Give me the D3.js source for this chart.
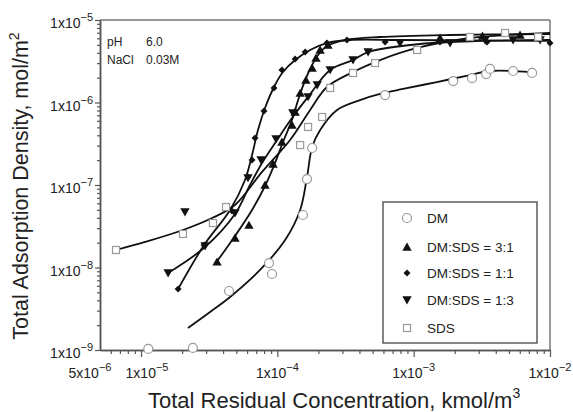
<!DOCTYPE html>
<html><head><meta charset="utf-8">
<script src="https://cdn.jsdelivr.net/npm/d3@7"></script>
<style>
body{margin:0;background:#fff}
svg{display:block;font-family:Arial,"Liberation Sans",Helvetica,sans-serif}
</style>
</head><body>
<svg id="chart" width="573" height="412"></svg>
<script>
// ---------- data ----------
const seriesNames = ["DM", "DM:SDS = 3:1", "DM:SDS = 1:1", "DM:SDS = 1:3", "SDS"];

const dmX = [1.13e-5, 2.40e-5, 4.42e-5, 8.69e-5, 9.14e-5, 1.54e-4, 1.65e-4, 1.80e-4, 6.17e-4, 1.95e-3, 2.68e-3, 3.40e-3, 3.63e-3, 5.36e-3, 7.39e-3];
const dmY = [1.03e-9, 1.06e-9, 5.19e-9, 1.13e-8, 8.34e-9, 4.33e-8, 1.18e-7, 2.81e-7, 1.23e-6, 1.82e-6, 1.98e-6, 2.21e-6, 2.55e-6, 2.41e-6, 2.28e-6];
const dmFitX = [2.21e-5, 3.21e-5, 4.50e-5, 7.46e-5, 1.14e-4, 1.47e-4, 1.65e-4, 1.80e-4, 2.06e-4, 2.74e-4, 4.04e-4, 5.67e-4, 8.36e-4, 1.48e-3, 2.59e-3, 3.63e-3, 7.14e-3];
const dmFitY = [1.85e-9, 2.89e-9, 4.39e-9, 9.33e-9, 2.15e-8, 4.98e-8, 1.25e-7, 2.89e-7, 4.64e-7, 8.11e-7, 1.07e-6, 1.27e-6, 1.46e-6, 1.77e-6, 2.15e-6, 2.41e-6, 2.34e-6];

const r31X = [3.61e-5, 4.89e-5, 6.19e-5, 8.12e-5, 9.30e-5, 1.08e-4, 1.28e-4, 1.35e-4, 1.47e-4, 1.62e-4, 1.80e-4, 1.92e-4, 2.06e-4, 2.35e-4, 1.56e-3, 3.2e-3, 6.03e-3];
const r31Y = [1.17e-8, 2.28e-8, 3.27e-8, 1.0e-7, 1.80e-7, 3.32e-7, 5.34e-7, 7.67e-7, 1.30e-6, 1.87e-6, 2.62e-6, 3.46e-6, 4.33e-6, 4.98e-6, 6.05e-6, 6.4e-6, 6.58e-6];
const r31FitX = [3.49e-5, 4.89e-5, 6.52e-5, 8.12e-5, 9.61e-5, 1.10e-4, 1.28e-4, 1.42e-4, 1.60e-4, 1.80e-4, 1.99e-4, 2.31e-4, 3.14e-4, 5.67e-4, 1.85e-3, 1.0e-2];
const r31FitY = [1.10e-8, 2.41e-8, 4.98e-8, 9.72e-8, 1.85e-7, 3.32e-7, 6.14e-7, 1.07e-6, 1.87e-6, 2.85e-6, 3.77e-6, 4.84e-6, 5.72e-6, 6.22e-6, 6.58e-6, 6.77e-6];

const r11X = [1.87e-5, 2.90e-5, 4.65e-5, 6.09e-5, 6.52e-5, 6.86e-5, 7.98e-5, 9.45e-5, 1.08e-4, 1.35e-4, 1.60e-4, 2.31e-4, 3.24e-4, 6.17e-4, 1.56e-3, 3.45e-3, 1.0e-2];
const r11Y = [5.49e-9, 1.87e-8, 4.84e-8, 1.25e-7, 2.01e-7, 3.71e-7, 7.89e-7, 1.50e-6, 2.48e-6, 3.37e-6, 4.09e-6, 5.26e-6, 5.72e-6, 5.41e-6, 5.41e-6, 5.41e-6, 5.26e-6];
const r11FitX = [1.87e-5, 2.90e-5, 4.50e-5, 5.79e-5, 6.52e-5, 7.21e-5, 8.12e-5, 9.61e-5, 1.10e-4, 1.35e-4, 1.74e-4, 2.31e-4, 3.41e-4, 7.94e-4, 1.0e-2];
const r11FitY = [5.49e-9, 1.87e-8, 4.98e-8, 1.15e-7, 2.31e-7, 4.64e-7, 8.58e-7, 1.63e-6, 2.34e-6, 3.27e-6, 4.33e-6, 5.26e-6, 5.72e-6, 5.72e-6, 5.57e-6];

const r13X = [1.58e-5, 2.10e-5, 2.95e-5, 4.89e-5, 6.09e-5, 7.59e-5, 9.78e-5, 1.30e-4, 1.68e-4, 1.96e-4, 2.44e-4, 3.59e-4, 4.63e-4, 7.94e-4, 1.85e-3, 3.34e-3, 5.36e-3, 8.46e-3];
const r13Y = [8.58e-9, 4.71e-8, 1.82e-8, 4.58e-8, 1.22e-7, 2.01e-7, 3.61e-7, 7.46e-7, 1.17e-6, 1.63e-6, 2.48e-6, 3.27e-6, 4.09e-6, 5.26e-6, 5.26e-6, 5.72e-6, 5.72e-6, 5.72e-6];
const r13FitX = [1.58e-5, 2.95e-5, 4.89e-5, 6.30e-5, 7.72e-5, 9.95e-5, 1.28e-4, 1.68e-4, 2.44e-4, 3.59e-4, 4.63e-4, 1.11e-3, 3.07e-3, 1.0e-2];
const r13FitY = [8.58e-9, 1.77e-8, 4.45e-8, 1.0e-7, 1.85e-7, 3.51e-7, 6.49e-7, 1.17e-6, 2.48e-6, 3.27e-6, 4.09e-6, 5.12e-6, 5.57e-6, 5.72e-6];

const sdsX = [6.55e-6, 2.03e-5, 3.37e-5, 4.20e-5, 1.47e-4, 1.68e-4, 2.13e-4, 2.44e-4, 3.59e-4, 5.21e-4, 1.06e-3, 2.59e-3, 4.68e-3, 8.18e-3];
const sdsY = [1.63e-8, 2.55e-8, 3.46e-8, 5.41e-8, 3.05e-7, 5.05e-7, 6.67e-7, 1.50e-6, 2.28e-6, 3.01e-6, 4.33e-6, 6.22e-6, 6.96e-6, 6.22e-6];
const sdsFitX = [6.55e-6, 1.07e-5, 2.03e-5, 3.32e-5, 4.89e-5, 7.72e-5, 1.24e-4, 1.74e-4, 2.31e-4, 3.59e-4, 5.67e-4, 1.06e-3, 2.59e-3, 1.0e-2];
const sdsFitY = [1.63e-8, 2.04e-8, 2.85e-8, 3.98e-8, 5.72e-8, 1.44e-7, 3.51e-7, 8.11e-7, 1.54e-6, 2.34e-6, 3.27e-6, 4.58e-6, 6.05e-6, 6.96e-6];

const xTickValues = [5e-6, 1e-5, 1e-4, 1e-3, 1e-2];
const xTickMant = ["5x10", "1x10", "1x10", "1x10", "1x10"];
const xTickExp = ["\u22126", "\u22125", "\u22124", "\u22123", "\u22122"];
const yTickValues = [1e-9, 1e-8, 1e-7, 1e-6, 1e-5];
const yTickMant = ["1x10", "1x10", "1x10", "1x10", "1x10"];
const yTickExp = ["\u22129", "\u22128", "\u22127", "\u22126", "\u22125"];

const xTitle = "Total Residual Concentration, kmol/m";
const xTitleSup = "3";
const yTitle = "Total Adsorption Density, mol/m";
const yTitleSup = "2";
const noteLabels = ["pH", "NaCl"];
const noteValues = ["6.0", "0.03M"];

// ---------- layout ----------
const svg = d3.select("#chart");
const L = 100, R = 550, T = 20, B = 350;
const x = d3.scaleLog().domain([5e-6, 1e-2]).range([L, R]);
const y = d3.scaleLog().domain([1e-9, 1e-5]).range([B, T]);
const axisColor = "#555";

function minors(lo, hi) {
  const out = [];
  for (let e = Math.floor(Math.log10(lo)); e <= Math.ceil(Math.log10(hi)); e++) {
    for (let m = 2; m <= 9; m++) {
      const v = m * Math.pow(10, e);
      if (v > lo * 1.0001 && v < hi * 0.9999) out.push(v);
    }
  }
  return out;
}

// frame top / right
svg.append("line").attr("x1", L).attr("x2", R).attr("y1", T).attr("y2", T)
  .attr("stroke", "#777").attr("stroke-width", 1.5);
svg.append("line").attr("x1", R).attr("x2", R).attr("y1", T).attr("y2", B)
  .attr("stroke", "#777").attr("stroke-width", 1.5);

// x axis
const gx = svg.append("g").attr("transform", `translate(0,${B})`);
gx.call(d3.axisBottom(x).tickValues(minors(5e-6, 1e-2)).tickSize(4).tickSizeOuter(0).tickFormat(""));
gx.selectAll(".tick text").remove();
const gx2 = svg.append("g").attr("transform", `translate(0,${B})`);
gx2.call(d3.axisBottom(x).tickValues(xTickValues.slice(1)).tickSize(7).tickSizeOuter(0).tickFormat(""));
gx2.selectAll(".tick text").remove();
[gx, gx2].forEach(g => {
  g.selectAll("line").attr("stroke", axisColor).attr("stroke-width", 1.2);
  g.select(".domain").attr("stroke", axisColor).attr("stroke-width", 1.5);
});
const xLabOffset = [-10, 6, 0, 0, 0];
xTickValues.forEach((v, i) => {
  const t = svg.append("text").attr("x", x(v) + xLabOffset[i]).attr("y", 378)
    .attr("text-anchor", "middle").attr("font-size", 14).attr("fill", "#222");
  t.append("tspan").text(xTickMant[i]);
  t.append("tspan").attr("font-size", 11).attr("dy", -7).text(xTickExp[i]);
});

// y axis
const gy = svg.append("g").attr("transform", `translate(${L},0)`);
gy.call(d3.axisLeft(y).tickValues(minors(1e-9, 1e-5)).tickSize(3).tickSizeOuter(0).tickFormat(""));
gy.selectAll(".tick text").remove();
const gy2 = svg.append("g").attr("transform", `translate(${L},0)`);
gy2.call(d3.axisLeft(y).tickValues(yTickValues).tickSize(5).tickSizeOuter(0).tickFormat(""));
gy2.selectAll(".tick text").remove();
[gy, gy2].forEach(g => {
  g.selectAll("line").attr("stroke", axisColor).attr("stroke-width", 1.2);
  g.select(".domain").attr("stroke", axisColor).attr("stroke-width", 1.5);
});
yTickValues.forEach((v, i) => {
  const t = svg.append("text").attr("x", 93).attr("y", y(v) + 8)
    .attr("text-anchor", "end").attr("font-size", 14).attr("fill", "#222");
  t.append("tspan").text(yTickMant[i]);
  t.append("tspan").attr("font-size", 11).attr("dy", -7).text(yTickExp[i]);
});

// axis titles
const xt = svg.append("text").attr("x", 148).attr("y", 408)
  .attr("text-anchor", "start").attr("font-size", 22).attr("fill", "#222");
xt.append("tspan").text(xTitle);
xt.append("tspan").attr("font-size", 14).attr("dy", -10).text(xTitleSup);

const yt = svg.append("text").attr("transform", `translate(28,186) rotate(-90)`)
  .attr("text-anchor", "middle").attr("font-size", 21.5).attr("fill", "#222");
yt.append("tspan").text(yTitle);
yt.append("tspan").attr("font-size", 14).attr("dy", -9).text(yTitleSup);

// note
noteLabels.forEach((s, i) => {
  svg.append("text").attr("x", 107).attr("y", 46 + i * 17.5).attr("font-size", 12).attr("fill", "#222").text(s);
  svg.append("text").attr("x", 146).attr("y", 46 + i * 17.5).attr("font-size", 12).attr("fill", "#222").text(noteValues[i]);
});

// ---------- series ----------
const zip = (a, b) => a.map((v, i) => [v, b[i]]);
const series = [
  { name: seriesNames[0], pts: zip(dmX, dmY), fit: zip(dmFitX, dmFitY), sym: "circle" },
  { name: seriesNames[1], pts: zip(r31X, r31Y), fit: zip(r31FitX, r31FitY), sym: "up" },
  { name: seriesNames[2], pts: zip(r11X, r11Y), fit: zip(r11FitX, r11FitY), sym: "diamond" },
  { name: seriesNames[3], pts: zip(r13X, r13Y), fit: zip(r13FitX, r13FitY), sym: "down" },
  { name: seriesNames[4], pts: zip(sdsX, sdsY), fit: zip(sdsFitX, sdsFitY), sym: "square" }
];

const line = d3.line().x(d => x(d[0])).y(d => y(d[1])).curve(d3.curveCatmullRom.alpha(0.5));
const plot = svg.append("g");
series.forEach(s => {
  plot.append("path").attr("d", line(s.fit)).attr("fill", "none")
    .attr("stroke", "#111").attr("stroke-width", 1.8);
});

function drawSymbol(g, sym, cx, cy) {
  if (sym === "circle") {
    g.append("circle").attr("cx", cx).attr("cy", cy).attr("r", 4.5)
      .attr("fill", "#fff").attr("stroke", "#999").attr("stroke-width", 1.2);
  } else if (sym === "square") {
    g.append("rect").attr("x", cx - 3.5).attr("y", cy - 3.5).attr("width", 7).attr("height", 7)
      .attr("fill", "#fff").attr("stroke", "#999").attr("stroke-width", 1.2);
  } else if (sym === "up") {
    g.append("path").attr("d", d3.symbol(d3.symbolTriangle, 38)())
      .attr("transform", `translate(${cx},${cy + 1})`).attr("fill", "#111");
  } else if (sym === "down") {
    g.append("path").attr("d", d3.symbol(d3.symbolTriangle, 38)())
      .attr("transform", `translate(${cx},${cy - 1}) rotate(180)`).attr("fill", "#111");
  } else if (sym === "diamond") {
    g.append("path").attr("d", d3.symbol(d3.symbolSquare, 24)())
      .attr("transform", `translate(${cx},${cy}) rotate(45)`).attr("fill", "#111");
  }
}
series.forEach(s => {
  const g = plot.append("g");
  s.pts.forEach(p => drawSymbol(g, s.sym, x(p[0]), y(p[1])));
});

// ---------- legend ----------
const lg = svg.append("g");
lg.append("rect").attr("x", 383).attr("y", 202).attr("width", 154).attr("height", 141)
  .attr("fill", "#fff").attr("stroke", "#444").attr("stroke-width", 1.3);
const legY = [218, 247, 273, 300, 328];
series.forEach((s, i) => {
  drawSymbol(lg, s.sym, 407, legY[i]);
  lg.append("text").attr("x", 427).attr("y", legY[i] + 5).attr("font-size", 13.5)
    .attr("fill", "#222").text(s.name);
});
</script>
</body></html>
